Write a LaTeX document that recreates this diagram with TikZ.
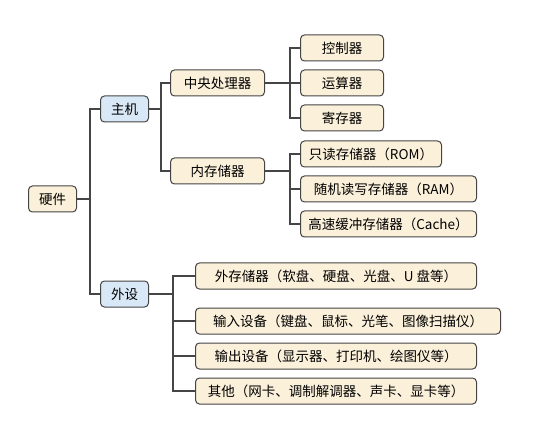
\documentclass[tikz,border=0pt]{standalone}
\usepackage{fontspec}
\setmainfont{Noto Sans CJK SC}
\definecolor{cream}{HTML}{FBF0DA}
\definecolor{paleblue}{HTML}{D9E8F6}
\definecolor{edge}{HTML}{454545}
\tikzset{
  box/.style={draw=edge,line width=1pt,rounded corners=4pt,fill=cream,
    minimum height=26pt,inner sep=2pt,anchor=west,
    font=\fontsize{13.5}{15}\selectfont},
  midbox/.style={box,fill=paleblue},
  link/.style={draw=edge,line width=1.2pt}
}
\begin{document}
\begin{tikzpicture}[x=1pt,y=-1pt]
      \useasboundingbox (0,0) rectangle (535,438);
      \node[box,minimum width=48pt] (hw) at (28,199) {硬件};
      \node[midbox,minimum width=48pt] (host) at (100,109) {主机};
      \node[midbox,minimum width=48pt] (periph) at (100,294) {外设};
      \node[box,minimum width=94pt] (cpu) at (170,83) {中央处理器};
      \node[box,minimum width=94pt] (mem) at (170,171) {内存储器};
      \node[box,minimum width=83pt] (ctrl) at (300,48) {控制器};
      \node[box,minimum width=83pt] (alu) at (300,83) {运算器};
      \node[box,minimum width=83pt] (reg) at (300,118) {寄存器};
      \node[box,minimum width=141pt] (rom) at (300,154) {只读存储器（ROM）};
      \node[box,minimum width=176pt] (ram) at (300,189) {随机读写存储器（RAM）};
      \node[box,minimum width=176pt] (cache) at (300,224) {高速缓冲存储器（Cache）};
      \node[box,minimum width=281pt] (ext) at (195,276) {外存储器（软盘、硬盘、光盘、U 盘等）};
      \node[box,minimum width=305pt] (input) at (195,321) {输入设备（键盘、鼠标、光笔、图像扫描仪）};
      \node[box,minimum width=281pt] (output) at (195,356) {输出设备（显示器、打印机、绘图仪等）};
      \node[box,minimum width=281pt] (other) at (195,391) {其他（网卡、调制解调器、声卡、显卡等）};
      % tree connectors
      \foreach \child in {host,periph} \draw[link] (hw.east) -- ++(13,0) |- (\child.west);
      \foreach \child in {cpu,mem} \draw[link] (host.east) -- ++(12,0) |- (\child.west);
      \foreach \child in {ctrl,alu,reg} \draw[link] (cpu.east) -- ++(25,0) |- (\child.west);
      \foreach \child in {rom,ram,cache} \draw[link] (mem.east) -- ++(25,0) |- (\child.west);
      \foreach \child in {ext,input,output,other} \draw[link] (periph.east) -- ++(24,0) |- (\child.west);
    \end{tikzpicture}
\end{document}
